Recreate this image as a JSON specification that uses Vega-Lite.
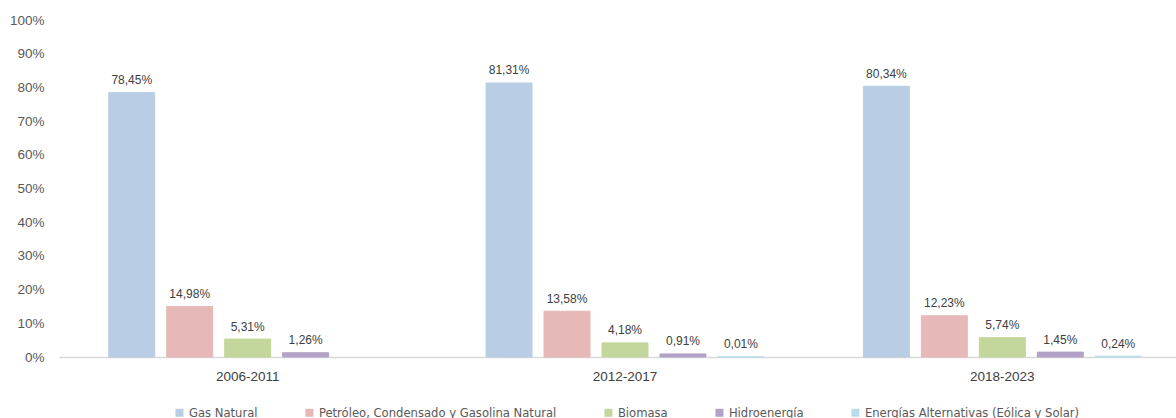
{
  "$schema": "https://vega.github.io/schema/vega-lite/v6.json",
  "autosize": "none",
  "padding": {"left": 59, "top": 20, "right": 0, "bottom": 61},
  "width": 1132,
  "height": 337,
  "background": "white",
  "config": {
    "locale": {"number": {"decimal": ",", "thousands": ".", "grouping": [3], "currency": ["", " €"]}},
    "view": {"stroke": null},
    "font": "Liberation Sans"
  },
  "data": {
    "values": [
      {"periodo": "2006-2011", "fuente": "Gas Natural", "valor": 0.7845},
      {"periodo": "2006-2011", "fuente": "Petróleo, Condensado y Gasolina Natural", "valor": 0.1498},
      {"periodo": "2006-2011", "fuente": "Biomasa", "valor": 0.0531},
      {"periodo": "2006-2011", "fuente": "Hidroenergía", "valor": 0.0126},
      {"periodo": "2012-2017", "fuente": "Gas Natural", "valor": 0.8131},
      {"periodo": "2012-2017", "fuente": "Petróleo, Condensado y Gasolina Natural", "valor": 0.1358},
      {"periodo": "2012-2017", "fuente": "Biomasa", "valor": 0.0418},
      {"periodo": "2012-2017", "fuente": "Hidroenergía", "valor": 0.0091},
      {"periodo": "2012-2017", "fuente": "Energías Alternativas (Eólica y Solar)", "valor": 0.0001},
      {"periodo": "2018-2023", "fuente": "Gas Natural", "valor": 0.8034},
      {"periodo": "2018-2023", "fuente": "Petróleo, Condensado y Gasolina Natural", "valor": 0.1223},
      {"periodo": "2018-2023", "fuente": "Biomasa", "valor": 0.0574},
      {"periodo": "2018-2023", "fuente": "Hidroenergía", "valor": 0.0145},
      {"periodo": "2018-2023", "fuente": "Energías Alternativas (Eólica y Solar)", "valor": 0.0024}
    ]
  },
  "encoding": {
    "x": {
      "field": "periodo", "type": "nominal", "title": null,
      "scale": {"paddingInner": 0.2636, "paddingOuter": 0.1318},
      "axis": {"labelAngle": 0, "ticks": false, "domainColor": "#D9D9D9", "domainWidth": 1.5, "labelFontSize": 13.5, "labelColor": "#404040", "labelPadding": 12.5, "labelFont": "Liberation Sans"}
    },
    "xOffset": {
      "field": "fuente", "type": "nominal",
      "sort": ["Gas Natural", "Petróleo, Condensado y Gasolina Natural", "Biomasa", "Hidroenergía", "Energías Alternativas (Eólica y Solar)"],
      "scale": {"domain": ["Gas Natural", "Petróleo, Condensado y Gasolina Natural", "Biomasa", "Hidroenergía", "Energías Alternativas (Eólica y Solar)"], "paddingInner": 0.2069, "paddingOuter": 0}
    },
    "y": {
      "field": "valor", "type": "quantitative", "title": null,
      "scale": {"domain": [0, 1], "nice": false},
      "axis": {"values": [0, 0.1, 0.2, 0.3, 0.4, 0.5, 0.6, 0.7, 0.8, 0.9, 1], "format": ".0%", "domain": false, "ticks": false, "grid": false, "labelFontSize": 13.5, "labelColor": "#595959", "labelPadding": 15, "labelFont": "Liberation Sans"}
    }
  },
  "layer": [
    {
      "mark": {"type": "bar", "strokeWidth": 1},
      "encoding": {
        "color": {
          "field": "fuente", "type": "nominal",
          "scale": {
            "domain": ["Gas Natural", "Petróleo, Condensado y Gasolina Natural", "Biomasa", "Hidroenergía", "Energías Alternativas (Eólica y Solar)"],
            "range": ["#B9CDE5", "#E6B9B8", "#C3D69B", "#B3A2C7", "#B7DEE8"]
          },
          "legend": {
            "title": null, "orient": "none", "direction": "horizontal", "columns": 5,
            "legendX": 114, "legendY": 386,
            "symbolType": "square", "symbolSize": 64, "symbolStrokeWidth": 0, "symbolOpacity": 1,
            "labelFont": "DejaVu Sans Condensed, Liberation Sans, sans-serif", "labelFontSize": 12.9, "labelColor": "#595959",
            "labelOffset": 3, "columnPadding": 45, "labelLimit": 400
          }
        },
        "stroke": {
          "field": "fuente", "type": "nominal", "legend": null,
          "scale": {
            "domain": ["Gas Natural", "Petróleo, Condensado y Gasolina Natural", "Biomasa", "Hidroenergía", "Energías Alternativas (Eólica y Solar)"],
            "range": ["#B9CDE5", "#E6B9B8", "#C3D69B", "#B3A2C7", "#B7DEE8"]
          }
        }
      }
    },
    {
      "mark": {"type": "text", "baseline": "alphabetic", "dy": -8.5, "fontSize": 12, "color": "#404040", "font": "Liberation Sans"},
      "encoding": {
        "text": {"field": "valor", "type": "quantitative", "format": ".2%"}
      }
    }
  ]
}
